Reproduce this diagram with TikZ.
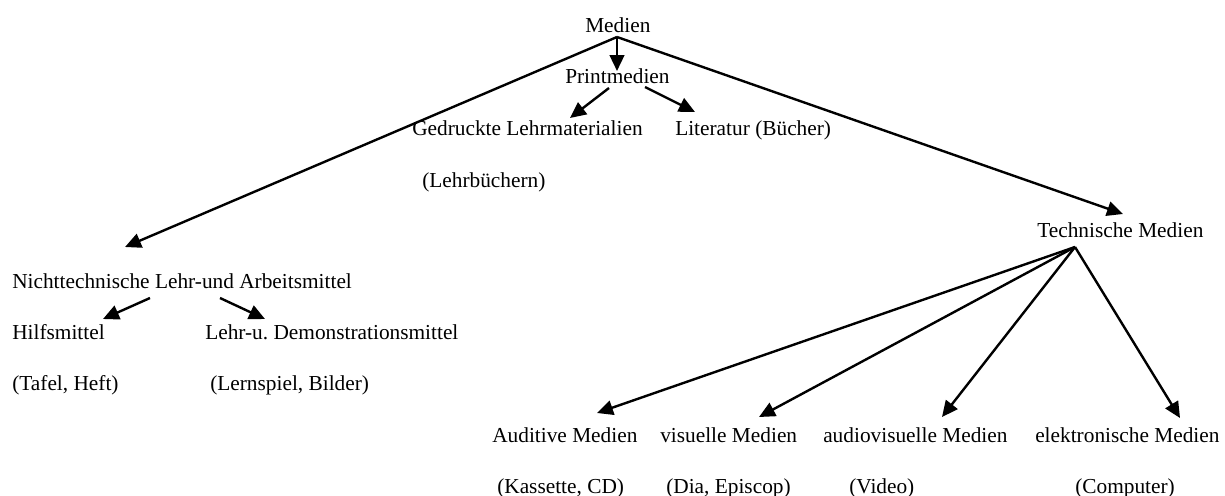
\documentclass[tikz,border=0pt]{standalone}
\usepackage{fontspec}
\setmainfont{Liberation Serif}
\usetikzlibrary{arrows.meta}
\frenchspacing
\begin{document}
\begin{tikzpicture}[x=0.75pt,y=-0.75pt,
  label/.style={anchor=base west,inner sep=0pt,font=\fontsize{16}{19}\selectfont},
  link/.style={line width=1.8pt,-{Triangle[length=12pt,width=11pt]}}]
\useasboundingbox (0,0) rectangle (1225,496);
\fill[white] (0,0) rectangle (1225,496);

% labels
\node[label] (medien) at (585,32) {Medien};
\node[label] (print) at (565,83) {Printmedien};
\node[label] (gedr) at (412,135) {Gedruckte Lehrmaterialien};
\node[label] (lehrb) at (422,187) {(Lehrbüchern)};
\node[label] (lit) at (675,135) {Literatur (Bücher)};
\node[label] (tech) at (1037,237) {Technische Medien};
\node[label] (nicht) at (12,288) {Nichttechnische Lehr-und Arbeitsmittel};
\node[label] (hilf) at (12,339) {Hilfsmittel};
\node[label] (demo) at (205,339) {Lehr-u. Demonstrationsmittel};
\node[label] (tafel) at (12,390) {(Tafel, Heft)};
\node[label] (lern) at (210,390) {(Lernspiel, Bilder)};
\node[label] (audi) at (492,442) {Auditive Medien};
\node[label] (visu) at (660,442) {visuelle Medien};
\node[label] (avis) at (823,442) {audiovisuelle Medien};
\node[label] (elek) at (1035,442) {elektronische Medien};
\node[label] (kass) at (497,493) {(Kassette, CD)};
\node[label] (dia) at (666,493) {(Dia, Episcop)};
\node[label] (video) at (849,493) {(Video)};
\node[label] (comp) at (1075,493) {(Computer)};

% connector ends
\coordinate (medien-out) at (617,37);
\coordinate (print-in) at (617,71);
\coordinate (nicht-in) at (125,247);
\coordinate (tech-in) at (1123,214);
\coordinate (print-outl) at (609,88);
\coordinate (print-outr) at (645,87);
\coordinate (gedr-in) at (570,118);
\coordinate (lit-in) at (695,112);
\coordinate (nicht-outl) at (150,298);
\coordinate (nicht-outr) at (220,298);
\coordinate (hilf-in) at (103,319);
\coordinate (demo-in) at (265,319);
\coordinate (tech-out) at (1075,247);
\coordinate (audi-in) at (597,413);
\coordinate (visu-in) at (759,417);
\coordinate (avis-in) at (942,417);
\coordinate (elek-in) at (1180,418);

% connectors
\draw[link] (medien-out) -- (print-in);
\draw[link] (medien-out) -- (nicht-in);
\draw[link] (medien-out) -- (tech-in);
\draw[link] (print-outl) -- (gedr-in);
\draw[link] (print-outr) -- (lit-in);
\draw[link] (nicht-outl) -- (hilf-in);
\draw[link] (nicht-outr) -- (demo-in);
\draw[link] (tech-out) -- (audi-in);
\draw[link] (tech-out) -- (visu-in);
\draw[link] (tech-out) -- (avis-in);
\draw[link] (tech-out) -- (elek-in);
\end{tikzpicture}
\end{document}
